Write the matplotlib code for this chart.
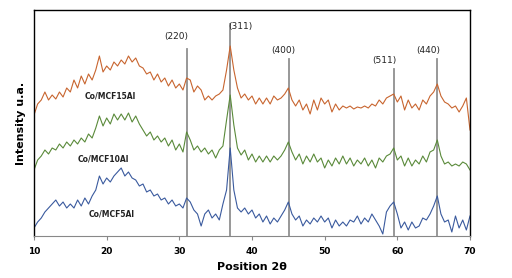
import numpy as np
import matplotlib
matplotlib.use("Agg")
import matplotlib.pyplot as plt

# 2theta grid (deg)
two_theta = np.arange(10, 70.01, 0.5)

# intensities (a.u., curves already offset as in the figure)
co_mcf15al = [121, 132, 136, 144, 136, 141, 137, 144, 139, 148, 144, 156, 148, 160, 152, 162,
              156, 166, 180, 164, 170, 166, 174, 170, 176, 172, 180, 174, 178, 170, 168, 162,
              164, 156, 162, 154, 158, 150, 156, 148, 152, 146, 158, 156, 144, 150, 146, 136,
              140, 136, 140, 142, 146, 166, 190, 166, 148, 138, 142, 136, 140, 132, 138, 132,
              138, 132, 140, 136, 138, 142, 148, 136, 130, 136, 126, 132, 122, 136, 126, 138,
              132, 136, 124, 132, 126, 130, 128, 130, 127, 129, 128, 130, 128, 132, 130, 136,
              132, 138, 140, 142, 134, 140, 126, 136, 128, 132, 126, 136, 132, 140, 144, 152,
              140, 134, 132, 128, 130, 124, 130, 138, 106]
co_mcf10al = [66, 76, 80, 86, 82, 88, 86, 92, 88, 94, 90, 96, 92, 98, 94, 102,
              98, 108, 120, 110, 118, 112, 122, 116, 122, 116, 123, 114, 120, 112, 106, 100,
              104, 96, 100, 94, 98, 90, 96, 86, 92, 84, 104, 96, 86, 90, 84, 88,
              82, 86, 78, 86, 90, 116, 141, 111, 88, 81, 86, 76, 82, 74, 80, 74,
              80, 74, 80, 76, 80, 86, 94, 84, 76, 82, 72, 80, 74, 82, 74, 78,
              68, 76, 70, 78, 72, 80, 72, 78, 70, 76, 72, 78, 70, 76, 68, 78,
              74, 80, 82, 88, 76, 80, 70, 78, 70, 76, 72, 80, 74, 84, 86, 96,
              80, 72, 74, 70, 72, 70, 74, 72, 66]
co_mcf5al = [8, 14, 18, 24, 28, 32, 36, 30, 34, 28, 32, 28, 36, 30, 38, 32,
             40, 46, 60, 52, 58, 54, 60, 64, 68, 60, 64, 58, 56, 50, 52, 44,
             46, 40, 42, 36, 38, 32, 36, 30, 32, 28, 38, 34, 26, 22, 10, 22,
             26, 18, 22, 16, 32, 46, 88, 46, 28, 24, 28, 22, 26, 18, 22, 14,
             20, 12, 18, 14, 20, 26, 34, 22, 16, 20, 10, 16, 12, 18, 14, 20,
             14, 18, 8, 16, 10, 14, 10, 16, 14, 20, 12, 18, 14, 22, 16, 10,
             2, 24, 30, 34, 22, 8, 14, 6, 14, 8, 10, 18, 16, 22, 30, 40,
             22, 14, 16, 4, 20, 8, 16, 6, 20]

# reflections
hkl = ['(220)', '(311)', '(400)', '(511)', '(440)']
hkl_pos = [31.1, 36.96, 45.07, 59.5, 65.4]
hkl_top = [187, 212, 177, 167, 177]
hkl_label_x = [29.6, 38.35, 44.26, 58.16, 64.22]
hkl_label_y = [200, 210, 186, 175, 186]

samples = ['Co/MCF15Al', 'Co/MCF10Al', 'Co/MCF5Al']
sample_label_x = [20.46, 19.5, 20.7]
sample_label_y = [140, 77, 22]
colors = ['#C8652F', '#5A8A3A', '#3A5A9E']

fig = plt.figure(figsize=(5.12, 2.78), dpi=100)
ax = fig.add_axes([34 / 512, 42 / 278, 436 / 512, 226 / 278])

for pos, top in zip(hkl_pos, hkl_top):
    ax.plot([pos, pos], [0, top], color='#909090', lw=1.3, zorder=1)

for y, c in zip([co_mcf15al, co_mcf10al, co_mcf5al], colors):
    ax.plot(two_theta, y, color=c, lw=0.8, zorder=2)

for lab, x, y in zip(hkl, hkl_label_x, hkl_label_y):
    ax.text(x, y, lab, ha='center', va='center', fontsize=6.5, color='#222222')

for lab, x, y in zip(samples, sample_label_x, sample_label_y):
    ax.text(x, y, lab, ha='center', va='center', fontsize=5.5, fontweight='bold', color='#222222')

ax.set_xlim(10, 70)
ax.set_ylim(0, 226)
ax.set_xticks(range(10, 71, 10))
ax.set_yticks([])
ax.tick_params(axis='x', length=3, width=0.8, color='#888888', labelsize=6.5, pad=5)
for t in ax.get_xticklabels():
    t.set_fontweight('bold')
ax.spines['bottom'].set_color('#888888')
for s in ['left', 'top', 'right']:
    ax.spines[s].set_color('black')
    ax.spines[s].set_linewidth(1.0)

ax.set_xlabel('Position 2θ', fontsize=8, fontweight='bold', labelpad=4)
ax.set_ylabel('Intensity u.a.', fontsize=8, fontweight='bold', labelpad=6)

fig.savefig('out.png', dpi=100)
